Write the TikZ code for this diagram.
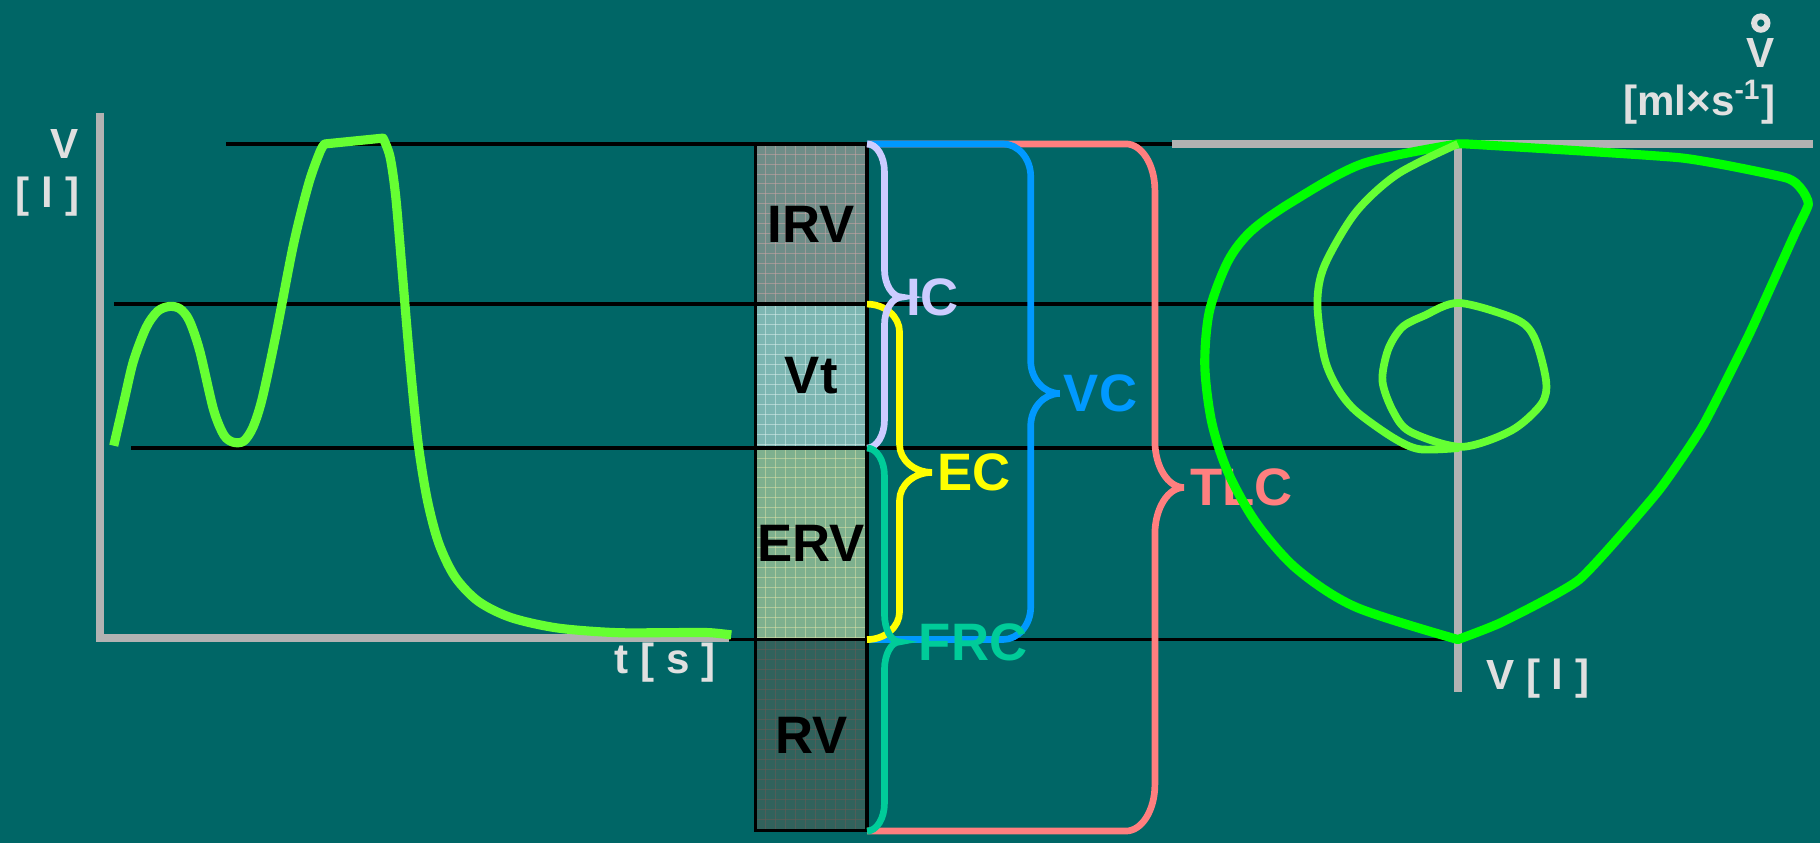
\documentclass[tikz,border=0pt]{standalone}
\usepackage{fontspec}
\setmainfont{Liberation Sans}
\usepackage{tikz}
\usetikzlibrary{positioning}
\definecolor{bgteal}{HTML}{006666}
\definecolor{axisgray}{HTML}{B2B2B2}
\definecolor{labelgray}{HTML}{E0E0E0}
\definecolor{iccol}{HTML}{CCCCFF}
\definecolor{eccol}{HTML}{FFFF00}
\definecolor{frccol}{HTML}{00CC99}
\definecolor{vccol}{HTML}{0099FF}
\definecolor{tlccol}{HTML}{FF7F7F}
\definecolor{spirogreen}{HTML}{66FF33}
\definecolor{loopgreen}{HTML}{00FF00}
\definecolor{irvfill}{HTML}{6F8D88}
\definecolor{irvgrid}{HTML}{C8A4A4}
\definecolor{vtfill}{HTML}{7DB6B2}
\definecolor{vtgrid}{HTML}{D8EEEC}
\definecolor{ervfill}{HTML}{7EB08E}
\definecolor{ervgrid}{HTML}{D8E0A8}
\definecolor{rvfill}{HTML}{31625C}
\definecolor{rvgrid}{HTML}{6A5A55}

\begin{document}
\begin{tikzpicture}[x=0.011607cm, y=-0.011607cm,
  levelline/.style={black, line width=1pt},
  axisline/.style={axisgray, line width=2.3pt},
  axislabel/.style={labelgray, inner sep=0pt, font=\fontsize{12}{14}\selectfont\bfseries},
  lungrow/.style 2 args={draw=black, line width=0.9pt, fill=#1, minimum width=1.1143cm,
    inner sep=0pt, outer sep=0pt, font=\fontsize{15}{18}\selectfont\bfseries,
    path picture={\foreach \k in {1,...,22}{
      \draw[#2, line width=0.25pt, draw opacity=0.55] ([xshift=\k*1mm]path picture bounding box.north west) -- ++(0,-2.5cm);
      \draw[#2, line width=0.25pt, draw opacity=0.55] ([yshift=-\k*1mm]path picture bounding box.north west) -- ++(1.5cm,0);}}},
  bracket/.style={line width=1.9pt},
  bracketlabel/.style={anchor=west, inner sep=1pt, font=\fontsize{15}{18}\selectfont\bfseries},
  breathcurve/.style={spirogreen, line width=2.6pt, line join=round},
  bigloop/.style={loopgreen, line width=2.6pt, line join=round},
  tidalloop/.style={spirogreen, line width=2.2pt, line join=round}]
  % background
  \fill[bgteal] (0,0) rectangle (1568,726);
  % volume levels
  \foreach \y/\xa/\xb in {124/195/1256, 262/98/1256, 386/113/1256, 551/100/1256}
    \draw[levelline] (\xa,\y) -- (\xb,\y);
  % spirogram axes
  \draw[axisline] (86,97) -- (86,550) -- (628,550);
  % spirogram
  \draw[breathcurve] plot[smooth, tension=0.5] coordinates {(98,384) (107,345) (115,311) (126,282)
    (136,268) (146,264) (155,266) (163,276) (172,302) (184,353) (193,375) (201,381) (210,380)
    (218,368) (226,343) (238,287) (253,210) (266,158) (276,130) (280,124)}
    -- plot[smooth, tension=0.5] coordinates {(330,119) (336,135) (341,170) (347,240) (353,310)
    (360,380) (368,430) (378,468) (392,497) (412,518) (440,532) (480,541) (530,545) (580,545)
    (610,545) (630,547)};
  % lung volumes
  \node[lungrow={irvfill}{irvgrid}, minimum height=1.6018cm] (irv) at (699,193) {IRV};
  \node[lungrow={vtfill}{vtgrid}, minimum height=1.4393cm, below=0pt of irv] (vt) {Vt};
  \node[lungrow={ervfill}{ervgrid}, minimum height=1.9152cm, below=0pt of vt] (erv) {ERV};
  \node[lungrow={rvfill}{rvgrid}, minimum height=1.9152cm, below=0pt of erv] (rv) {RV};
  % capacities
  \foreach \nm/\lbl/\col/\ya/\yb/\ym/\xv/\xt/\xh/\r/\lx in {
      tlc/TLC/tlccol/124/716/420/995/1020/970/40/1022,
      vc/VC/vccol/124/551/339/888/913/864/28/913,
      ec/EC/eccol/262/551/407/775/803/747/24/804,
      ic/IC/iccol/124/386/256/762/777/747/24/777,
      frc/FRC/frccol/386/716/553/762/775/747/24/788}{
    \draw[bracket, \col] (747,\ya) -- (\xh,\ya)
      .. controls ({\xh+0.55*(\xv-\xh)},\ya) and (\xv,{\ya+0.45*\r}) .. (\xv,\ya+\r)
      -- (\xv,\ym-\r)
      .. controls (\xv,{\ym-0.45*\r}) and ({\xv+0.45*(\xt-\xv)},\ym) .. (\xt,\ym) coordinate (\nm tip)
      .. controls ({\xv+0.45*(\xt-\xv)},\ym) and (\xv,{\ym+0.45*\r}) .. (\xv,\ym+\r)
      -- (\xv,\yb-\r)
      .. controls (\xv,{\yb-0.45*\r}) and ({\xh+0.55*(\xv-\xh)},\yb) .. (\xh,\yb)
      -- (747,\yb);
    \node[bracketlabel, text=\col] (\nm) at (\lx,\ym) {\lbl};
  }
  % flow-volume axes
  \draw[axisline] (1010,124) -- (1562,124);
  \draw[axisline] (1256,124) -- (1256,596);
  % flow-volume loops
  \draw[bigloop] plot[smooth, tension=0.5] coordinates {(1256,124) (1174,141) (1113,174) (1078,199)
    (1058,225) (1042,268) (1038,315) (1044,364) (1058,407) (1082,450) (1117,490) (1168,523) (1256,551)}
    -- plot[smooth, tension=0.3] coordinates {(1256,551) (1294,536) (1361,499) (1428,424) (1467,367)
    (1507,288) (1546,202) (1558,176) (1552,163) (1538,153) (1448,136) (1263,124)} -- cycle;
  \draw[tidalloop] plot[smooth, tension=0.5] coordinates {(1256,124) (1204,150) (1168,183) (1141,229)
    (1135,262) (1141,308) (1152,334) (1168,354) (1200,377) (1223,387) (1257,386)};
  \draw[tidalloop] plot[smooth cycle, tension=0.5] coordinates {(1257,261) (1306,275) (1322,291)
    (1332,328) (1328,348) (1302,371) (1259,385) (1215,372) (1200,354) (1191,328) (1196,301)
    (1208,282) (1227,272)};
  % axis labels
  \node[axislabel] (vlabel) at (56,124) {V};
  \node[axislabel] (vunit) at (41,169) {[ l ]};
  \node[axislabel] (tlabel) at (573,571) {t [ s ]};
  \node[axislabel] (vxlabel) at (1325,585) {V [ l ]};
  \node[axislabel] (flowlabel) at (1517,46) {V};
  \node[circle, draw=labelgray, line width=1.7pt, inner sep=0pt, outer sep=0pt,
    minimum size=3.8pt, above=2.4pt of flowlabel] (flowring) {};
  \node[axislabel] (flowunit) at (1464,88) {[ml×s\textsuperscript{-1}]};
\end{tikzpicture}
\end{document}
